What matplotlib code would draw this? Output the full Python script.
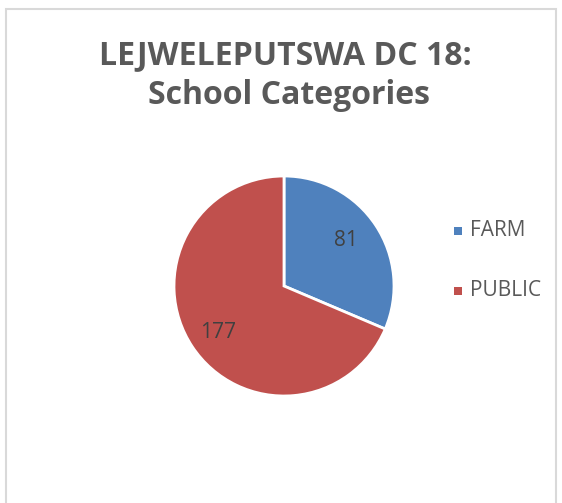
import matplotlib.pyplot as plt
import matplotlib.patches as patches

# Data
categories = ["FARM", "PUBLIC"]
values = [81, 177]
colors = ["#4F81BD", "#C0504D"]

fig = plt.figure(figsize=(5.62, 5.03), dpi=100)

# Chart border (light gray frame)
W, H = 562, 503
frame = patches.Rectangle((6 / W, -0.02), 550 / W, 1 - 9 / H + 0.02,
                          transform=fig.transFigure, fill=False,
                          edgecolor="#D9D9D9", linewidth=1.5)
fig.patches.append(frame)

# Title
fig.text(285 / W, 1 - 56 / H, "LEJWELEPUTSWA DC 18:", ha="center", va="center",
         fontsize=23, fontweight="bold", color="#595959", family="Open Sans")
fig.text(289 / W, 1 - 96 / H, "School Categories", ha="center", va="center",
         fontsize=23, fontweight="bold", color="#595959", family="Open Sans")

# Pie axes: center (284, 286), radius ~110 px
r = 110
ax = fig.add_axes([(284 - r) / W, 1 - (286 + r) / H, 2 * r / W, 2 * r / H])
wedges, texts = ax.pie(values, colors=colors, startangle=90, counterclock=False,
                       radius=1.0, wedgeprops=dict(edgecolor="white", linewidth=2))
ax.set_xlim(-1, 1)
ax.set_ylim(-1, 1)
ax.set_aspect("equal")
ax.axis("off")

# Data labels
label_pos = [(346, 240), (218, 333)]
for v, (px, py) in zip(values, label_pos):
    fig.text(px / W, 1 - py / H, str(v), ha="center", va="center",
             fontsize=15, color="#404040", family="Open Sans")

# Legend
leg_y = [231, 291]
for name, c, py in zip(categories, colors, leg_y):
    fig.patches.append(patches.Rectangle((454 / W, 1 - (py + 4) / H), 8 / W, 8 / H,
                                         transform=fig.transFigure,
                                         facecolor=c, edgecolor="none"))
    fig.text(470 / W, 1 - py / H, name, ha="left", va="center",
             fontsize=15, color="#595959", family="Open Sans")

fig.savefig("out.png", dpi=100, facecolor="white")
